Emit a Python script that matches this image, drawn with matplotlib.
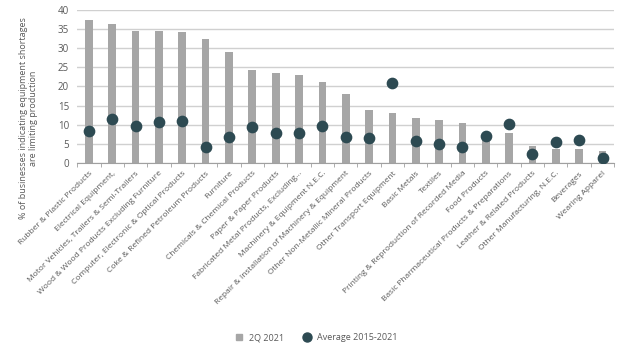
import numpy as np
import matplotlib.pyplot as plt
from matplotlib.lines import Line2D

categories = [
    "Rubber & Plastic Products",
    "Electrical Equipment,",
    "Motor Vehicles, Trailers & Semi-Trailers",
    "Wood & Wood Products Excluding Furniture",
    "Computer, Electronic & Optical Products",
    "Coke & Refined Petroleum Products",
    "Furniture",
    "Chemicals & Chemical Products",
    "Paper & Paper Products",
    "Fabricated Metal Products, Excluding...",
    "Machinery & Equipment N.E.C.",
    "Repair & Installation of Machinery & Equipment",
    "Other Non-Metallic Mineral Products",
    "Other Transport Equipment",
    "Basic Metals",
    "Textiles",
    "Printing & Reproduction of Recorded Media",
    "Food Products",
    "Basic Pharmaceutical Products & Preparations",
    "Leather & Related Products",
    "Other Manufacturing, N.E.C.",
    "Beverages",
    "Wearing Apparel",
]
q2_2021 = [37.4, 36.3, 34.6, 34.6, 34.2, 32.4, 29.0, 24.4, 23.6, 23.1, 21.2, 17.9,
           13.8, 13.0, 11.7, 11.2, 10.5, 6.5, 7.7, 4.3, 3.7, 3.6, 3.1]
avg_2015_2021 = [8.3, 11.5, 9.7, 10.7, 11.0, 4.2, 6.7, 9.5, 7.7, 7.7, 9.7, 6.7,
                 6.5, 21.0, 5.7, 5.0, 4.2, 7.0, 10.1, 2.3, 5.4, 6.0, 1.2]

plt.rcParams['font.family'] = ['Open Sans', 'DejaVu Sans']

bar_color = '#a6a6a6'
dot_color = '#2d4a52'
text_color = '#595959'

fig = plt.figure(figsize=(6.28, 3.58), dpi=100)
ax = fig.add_axes([0.123, 0.545, 0.855, 0.427])

x = np.arange(len(categories))
ax.bar(x, q2_2021, width=0.33, color=bar_color, zorder=2)
ax.scatter(x, avg_2015_2021, s=55, color=dot_color, zorder=3)

ax.set_xlim(-0.5, len(categories) - 0.5)
ax.set_ylim(0, 40)
ax.set_yticks(np.arange(0, 41, 5))
ax.yaxis.grid(True, color='#d0d0d0', linewidth=1, zorder=0)
ax.set_axisbelow(True)

for side in ['left', 'right', 'top']:
    ax.spines[side].set_visible(False)
ax.spines['bottom'].set_color('#a0a0a0')

ax.set_xticks(x)
ax.set_xticklabels(categories, rotation=45, ha='right', rotation_mode='anchor',
                   fontsize=6, color=text_color)
ax.set_xticks(np.arange(-0.5, len(categories), 1), minor=True)
ax.tick_params(axis='x', which='major', length=0, pad=5)
ax.tick_params(axis='x', which='minor', length=3, color='#a0a0a0')
ax.tick_params(axis='y', length=0, labelsize=7, labelcolor=text_color, pad=6)

# y label sits lower than the axes centre in the original
fig.text(0.045, 0.67, '% of businesses indicating equipment shortages\nare limiting production',
         rotation=90, ha='center', va='center', fontsize=6.5, color=text_color,
         multialignment='center')

handles = [
    Line2D([], [], marker='s', linestyle='none', color=bar_color, markersize=4.5),
    Line2D([], [], marker='o', linestyle='none', color=dot_color, markersize=6.5),
]
fig.legend(handles, ['2Q 2021', 'Average 2015-2021'], loc='center',
           bbox_to_anchor=(0.5, 0.056), ncol=2, frameon=False, fontsize=6.5,
           handletextpad=0.1, columnspacing=1.5, labelcolor=text_color)

fig.savefig('out.png', dpi=100, facecolor='white')
